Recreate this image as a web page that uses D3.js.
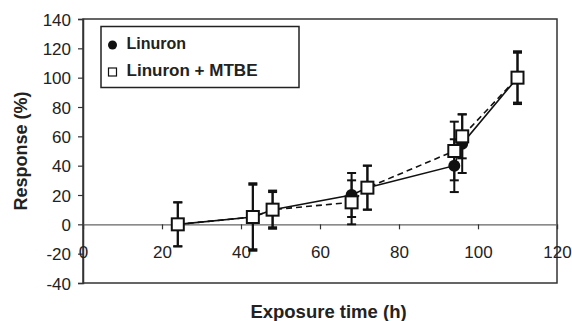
<!DOCTYPE html>
<html>
<head>
<meta charset="utf-8">
<script src="https://cdn.jsdelivr.net/npm/d3@7"></script>
<style>
  body { margin: 0; background: #fff; }
  text { font-family: "Liberation Sans", Arial, sans-serif; fill: #222; }
</style>
</head>
<body>
<script>
const width = 572;
const height = 321;

// data
const times = [24, 43, 48, 68, 72, 94, 96, 110];
const linuron = [0, 5, 10, 20, 25, 40, 55, 100];
const linuronErr = [15, 23, 13, 15, 15, 18, 20, 18];
const mtbe = [0, 5, 10, 15, 25, 50, 60, 100];
const mtbeErr = [15, 22, 12, 15, 15, 20, 15, 17];
const xTicks = [0, 20, 40, 60, 80, 100, 120];
const yTicks = [-40, -20, 0, 20, 40, 60, 80, 100, 120, 140];

const x = d3.scaleLinear().domain([0, 120]).range([83, 557]);
const y = d3.scaleLinear().domain([-40, 140]).range([283, 19]);

const svg = d3.select("body")
  .append("svg")
  .attr("width", width)
  .attr("height", height);

// plot frame
svg.append("rect")
  .attr("x", x(0))
  .attr("y", y(140))
  .attr("width", x(120) - x(0))
  .attr("height", y(-40) - y(140))
  .style("fill", "none")
  .style("stroke", "#333")
  .style("stroke-width", 1.5);

// y axis (plain hyphen for negatives, like the original)
const yAxis = svg.append("g")
  .attr("transform", `translate(${x(0)},0)`)
  .call(d3.axisLeft(y).tickValues(yTicks).tickFormat(d => String(d)).tickSize(5).tickPadding(7));
yAxis.selectAll("text").style("font-size", "17px").attr("dy", "0.36em");

// x axis sits on the zero line
const xAxis = svg.append("g")
  .attr("transform", `translate(0,${y(0)})`)
  .call(d3.axisBottom(x).tickValues(xTicks).tickFormat(d => String(d)).tickSize(5).tickPadding(17));
xAxis.selectAll("text").style("font-size", "17px");
xAxis.select(".domain").style("stroke", "#666").style("stroke-width", 1.2);
svg.selectAll(".tick line").style("stroke", "#333").style("stroke-width", 1.2);
yAxis.select(".domain").style("stroke", "#333").style("stroke-width", 1.5);

const series = [
  { name: "Linuron", vals: linuron, err: linuronErr, dash: null },
  { name: "Linuron + MTBE", vals: mtbe, err: mtbeErr, dash: "6,4" }
];

const line = d3.line().x(d => x(d[0])).y(d => y(d[1]));

series.forEach(s => {
  const pts = times.map((t, i) => [t, s.vals[i], s.err[i]]);

  svg.append("path")
    .datum(pts)
    .attr("d", line)
    .style("fill", "none")
    .style("stroke", "#111")
    .style("stroke-width", 1.6)
    .style("stroke-dasharray", s.dash);

  const eb = svg.append("g").style("stroke", "#111").style("stroke-width", 2);
  eb.selectAll(".bar").data(pts).join("line")
    .attr("x1", d => x(d[0])).attr("x2", d => x(d[0]))
    .attr("y1", d => y(d[1] - d[2])).attr("y2", d => y(d[1] + d[2]));
  eb.selectAll(".capTop").data(pts).join("line")
    .attr("x1", d => x(d[0]) - 4.5).attr("x2", d => x(d[0]) + 4.5)
    .attr("y1", d => y(d[1] + d[2])).attr("y2", d => y(d[1] + d[2]));
  eb.selectAll(".capBot").data(pts).join("line")
    .attr("x1", d => x(d[0]) - 4.5).attr("x2", d => x(d[0]) + 4.5)
    .attr("y1", d => y(d[1] - d[2])).attr("y2", d => y(d[1] - d[2]));
});

// markers: circles first, squares on top
svg.selectAll(".dot").data(times.map((t, i) => [t, linuron[i]])).join("circle")
  .attr("cx", d => x(d[0]))
  .attr("cy", d => y(d[1]))
  .attr("r", 6)
  .style("fill", "#111");

svg.selectAll(".sq").data(times.map((t, i) => [t, mtbe[i]])).join("rect")
  .attr("x", d => x(d[0]) - 6)
  .attr("y", d => y(d[1]) - 6)
  .attr("width", 12)
  .attr("height", 12)
  .style("fill", "#fff")
  .style("stroke", "#111")
  .style("stroke-width", 2);

// legend
const legend = svg.append("g");
legend.append("rect")
  .attr("x", 101).attr("y", 26.5)
  .attr("width", 198).attr("height", 61)
  .style("fill", "#fff")
  .style("stroke", "#222")
  .style("stroke-width", 1.5);
legend.append("circle")
  .attr("cx", 112.5).attr("cy", 45).attr("r", 4.5)
  .style("fill", "#111");
legend.append("rect")
  .attr("x", 108.5).attr("y", 68).attr("width", 8).attr("height", 8)
  .style("fill", "#fff").style("stroke", "#111").style("stroke-width", 1.2);
legend.append("text")
  .attr("x", 126.5).attr("y", 48.5)
  .style("font-size", "16px").style("font-weight", "bold")
  .text(series[0].name);
legend.append("text")
  .attr("x", 126.5).attr("y", 75.5)
  .style("font-size", "16px").style("font-weight", "bold")
  .attr("textLength", 131).attr("lengthAdjust", "spacingAndGlyphs")
  .text(series[1].name);

// axis titles
svg.append("text")
  .attr("transform", "translate(27,151) rotate(-90)")
  .attr("text-anchor", "middle")
  .style("font-size", "18px").style("font-weight", "bold")
  .text("Response (%)");

svg.append("text")
  .attr("x", 328.5).attr("y", 318)
  .attr("text-anchor", "middle")
  .style("font-size", "18.5px").style("font-weight", "bold")
  .text("Exposure time (h)");
</script>
</body>
</html>
